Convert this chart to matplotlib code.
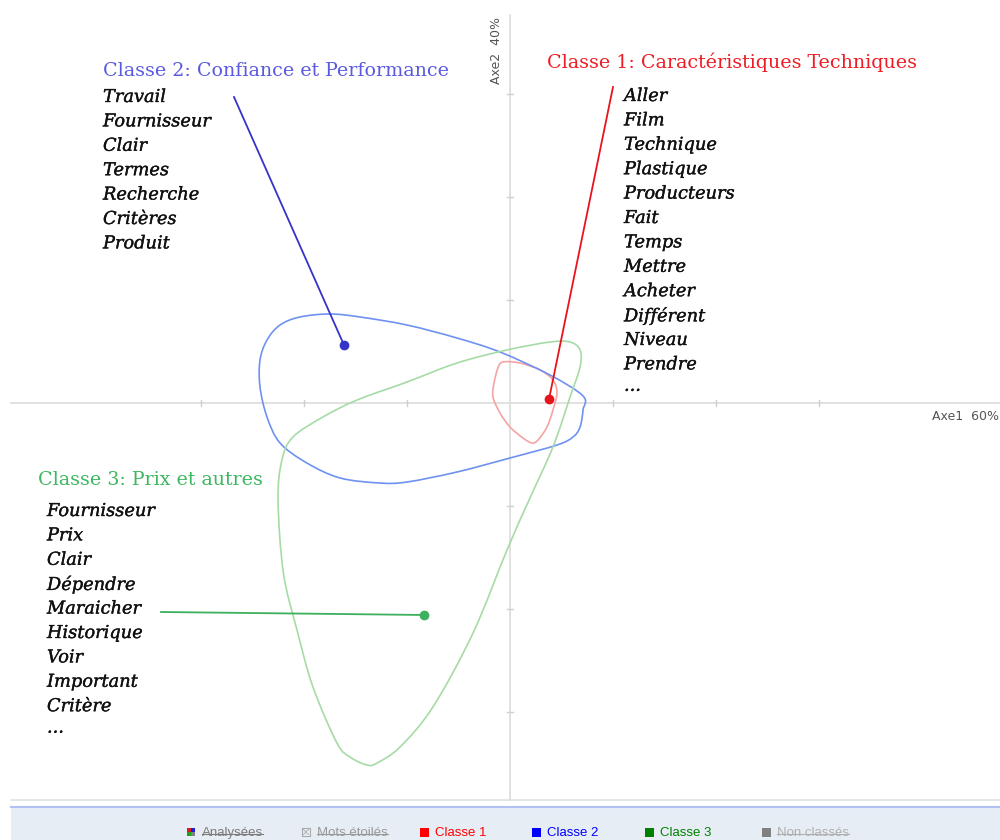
import matplotlib
matplotlib.use("Agg")
import matplotlib.pyplot as plt
from matplotlib.patches import Rectangle, PathPatch
from matplotlib.path import Path
import matplotlib.patheffects as pe

# ---------------- data ----------------
axis_labels = ["Axe1  60%", "Axe2  40%"]
tick_values = [-3, -2, -1, 1, 2, 3]

class_titles = ["Classe 1: Caractéristiques Techniques",
                "Classe 2: Confiance et Performance",
                "Classe 3: Prix et autres"]
class1_words = ["Aller", "Film", "Technique", "Plastique", "Producteurs", "Fait",
                "Temps", "Mettre", "Acheter", "Différent", "Niveau", "Prendre", "..."]
class2_words = ["Travail", "Fournisseur", "Clair", "Termes", "Recherche", "Critères", "Produit"]
class3_words = ["Fournisseur", "Prix", "Clair", "Dépendre", "Maraicher", "Historique",
                "Voir", "Important", "Critère", "..."]

# class centres (axis units)
center_x = [0.379, -1.612, -0.835]
center_y = [0.039, 0.563, -2.058]

# contour outlines (axis units)
class1_x = [-0.068, 0.097, 0.291, 0.417, 0.456, 0.417, 0.359, 0.272, 0.214, 0.126,
            0.000, -0.097, -0.165, -0.155, -0.117]
class1_y = [0.398, 0.388, 0.320, 0.223, 0.097, -0.068, -0.233, -0.359, -0.388, -0.340,
            -0.233, -0.097, 0.058, 0.194, 0.340]
class2_x = [-1.748, -1.456, -1.000, -0.515, -0.097, 0.388, 0.709, 0.709, 0.680, 0.612,
            0.456, 0.000, -0.515, -1.000, -1.262, -1.650, -1.971, -2.233, -2.359, -2.427,
            -2.427, -2.359, -2.233, -2.039]
class2_y = [0.864, 0.835, 0.757, 0.631, 0.495, 0.272, 0.068, -0.068, -0.233, -0.330,
            -0.408, -0.534, -0.670, -0.767, -0.777, -0.728, -0.583, -0.388, -0.136, 0.155,
            0.417, 0.612, 0.757, 0.835]
class3_x = [0.680, 0.583, 0.388, -0.029, -0.515, -1.000, -1.485, -1.816, -2.107, -2.214,
            -2.252, -2.200, -2.068, -1.913, -1.680, -1.553, -1.388, -1.291, -1.068,
            -0.748, -0.359, -0.029, 0.194, 0.417, 0.583, 0.680]
class3_y = [0.515, 0.592, 0.592, 0.515, 0.388, 0.204, 0.029, -0.136, -0.330, -0.553,
            -0.942, -1.650, -2.204, -2.757, -3.301, -3.437, -3.515, -3.495, -3.340,
            -2.951, -2.233, -1.427, -0.922, -0.427, 0.058, 0.350]

legend_labels = ["Analysées", "Mots étoilés", "Classe 1", "Classe 2", "Classe 3", "Non classés"]

# ---------------- style ----------------
W, H = 1000, 840
U = 103.0          # pixels per axis unit
OX, OY = 510, 403  # origin pixel

line_col = ["#e8141c", "#3434c8", "#3cb05c"]
hull_col = ["#f6a3a3", "#6f92f2", "#a6dba6"]
title_col = ["#ee1c24", "#5a5ae0", "#3cb860"]

fig = plt.figure(figsize=(W / 100, H / 100), dpi=100)
ax = fig.add_axes([0, 0, 1, 1])
ax.set_xlim(-OX / U, (W - OX) / U)
ax.set_ylim(-(H - OY) / U, OY / U)
ax.axis("off")


def px(x, y):
    return x / W, 1 - y / H


def smooth_closed(xs, ys):
    """Closed smooth outline through the given points (cubic Bezier path)."""
    n = len(xs)
    P = list(zip(xs, ys))
    verts = [P[0]]
    codes = [Path.MOVETO]
    for i in range(n):
        p0 = P[i - 1]
        p1 = P[i]
        p2 = P[(i + 1) % n]
        p3 = P[(i + 2) % n]
        c1 = (p1[0] + (p2[0] - p0[0]) / 6, p1[1] + (p2[1] - p0[1]) / 6)
        c2 = (p2[0] - (p3[0] - p1[0]) / 6, p2[1] - (p3[1] - p1[1]) / 6)
        verts += [c1, c2, p2]
        codes += [Path.CURVE4] * 3
    return Path(verts, codes)


# axes lines
ax.plot([(11 - OX) / U, (W - OX) / U], [0, 0], color="#dcdcdc", lw=1.2, zorder=1)
ax.plot([0, 0], [(OY - 800) / U, (OY - 15) / U], color="#dcdcdc", lw=1.2, zorder=1)
for t in tick_values:
    ax.plot([t, t], [-0.03, 0.03], color="#d0d0d0", lw=1, zorder=1)
    ax.plot([-0.03, 0.03], [t, t], color="#d0d0d0", lw=1, zorder=1)

fig.text(*px(932, 417), axis_labels[0], fontsize=9, color="#555555",
         family="DejaVu Sans", va="center", ha="left")
fig.text(*px(497, 50), axis_labels[1], fontsize=9, color="#555555",
         family="DejaVu Sans", va="center", ha="center", rotation=90)

# contours
for xs, ys, c in [(class1_x, class1_y, hull_col[0]),
                  (class2_x, class2_y, hull_col[1]),
                  (class3_x, class3_y, hull_col[2])]:
    ax.add_patch(PathPatch(smooth_closed(xs, ys), fill=False, ec=c, lw=1.2, zorder=2))

# leader lines and centres
leader_start = [((613 - OX) / U, (OY - 87) / U),
                ((234 - OX) / U, (OY - 97) / U),
                ((161 - OX) / U, (OY - 612) / U)]
for i in range(3):
    sx, sy = leader_start[i]
    ax.plot([sx, center_x[i]], [sy, center_y[i]], color=line_col[i], lw=1.3, zorder=3)
    ax.plot(center_x[i], center_y[i], "o", color=line_col[i], ms=6, zorder=4)

# texts
heavy = [pe.withStroke(linewidth=0.25, foreground="#111111")]
word_font = dict(family="DejaVu Serif", style="italic", fontsize=12.8, color="#111111",
                 va="center", ha="left", path_effects=heavy)
title_font = dict(family="DejaVu Serif", fontsize=13.7, va="center", ha="left")

fig.text(*px(547, 62), class_titles[0], color=title_col[0], **title_font)
fig.text(*px(103, 71), class_titles[1], color=title_col[1], **title_font)
fig.text(*px(38, 480), class_titles[2], color=title_col[2], **title_font)

step = 24.4
for k, w in enumerate(class1_words):
    fig.text(*px(624, 96 + k * step - (3 if w == "..." else 0)), w, **word_font)
for k, w in enumerate(class2_words):
    fig.text(*px(103, 97 + k * step), w, **word_font)
for k, w in enumerate(class3_words):
    fig.text(*px(47, 511 + k * step - (3 if w == "..." else 0)), w, **word_font)

# bottom bar
bar = fig.add_axes([0, 0, 1, 1], zorder=-1)
bar.set_xlim(0, W)
bar.set_ylim(H, 0)
bar.axis("off")
bar.add_patch(Rectangle((11, 806), W - 11, 34, color="#e7edf5", lw=0))
bar.plot([11, W], [800, 800], color="#e2e2e2", lw=1.2)
bar.plot([11, W], [806.5, 806.5], color="#b2c0f2", lw=1.5)

leg_x = [187, 302, 420, 532, 645, 762]
leg_col = ["#7f7f7f", "#9a9a9a", "#ff0000", "#0000ff", "#008000", "#808080"]
txt_col = ["#7a7a7a", "#9a9a9a", "#ff0000", "#0000ff", "#008000", "#b0b0b0"]
strike = [True, True, False, False, False, True]
for i, lab in enumerate(legend_labels):
    x0 = leg_x[i]
    if i == 0:
        bar.add_patch(Rectangle((x0, 828), 4, 4, color="#d02020", lw=0))
        bar.add_patch(Rectangle((x0 + 4, 828), 4, 4, color="#2020d0", lw=0))
        bar.add_patch(Rectangle((x0, 832), 4, 4, color="#20a020", lw=0))
        bar.add_patch(Rectangle((x0 + 4, 832), 4, 4, color="#808080", lw=0))
    elif i == 1:
        bar.add_patch(Rectangle((x0, 828), 8, 8, fill=False, ec="#aaaaaa", lw=0.8))
        bar.plot([x0 + 1.5, x0 + 6.5], [829.5, 834.5], color="#aaaaaa", lw=0.6)
        bar.plot([x0 + 1.5, x0 + 6.5], [834.5, 829.5], color="#aaaaaa", lw=0.6)
    else:
        bar.add_patch(Rectangle((x0, 828), 9, 9, color=leg_col[i], lw=0))
    t = bar.text(x0 + 15, 833, lab, fontsize=9.5, color=txt_col[i],
                 family="Liberation Sans", va="center", ha="left")
    if strike[i]:
        fig.canvas.draw()
        bb = t.get_window_extent()
        bar.plot([bb.x0, bb.x1], [834, 834], color=txt_col[i], lw=0.8)

fig.savefig("out.png", dpi=100)
